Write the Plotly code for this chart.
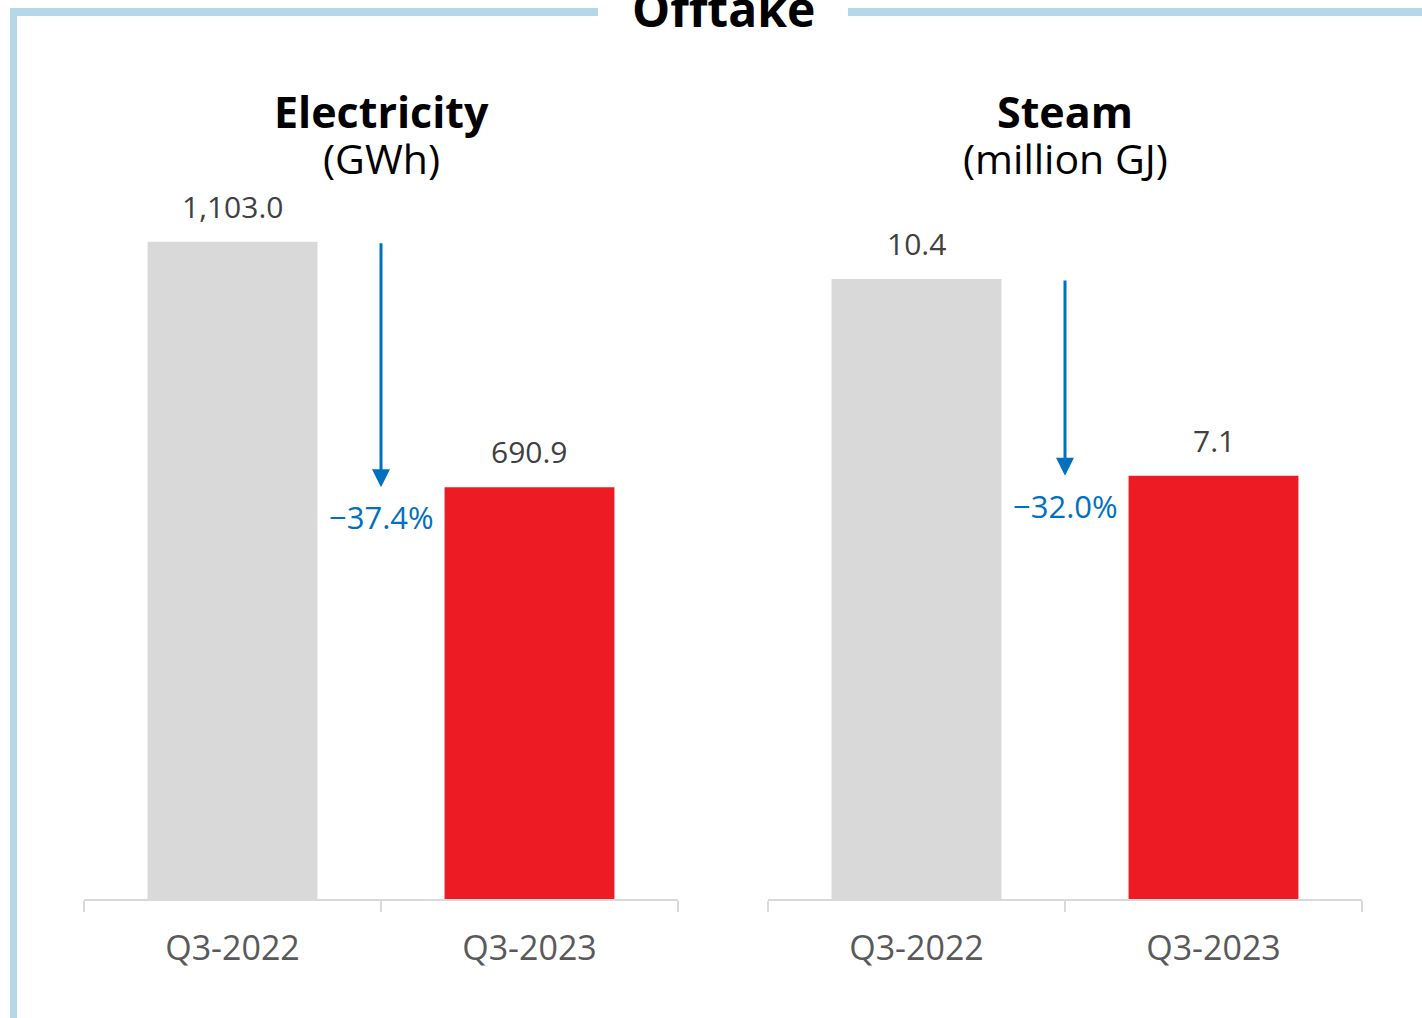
import plotly.graph_objects as go

W, H = 1422, 1018

# --- data ---
categories = ["Q3-2022", "Q3-2023"]
electricity_gwh = [1103.0, 690.9]
steam_million_gj = [10.4, 7.1]
change_pct = [-37.4, -32.0]
panel_titles = ["Electricity", "Steam"]
panel_units = ["(GWh)", "(million GJ)"]

BORDER = "#b4d8e7"
GREY_BAR = "#d9d9d9"
RED_BAR = "#ed1c24"
BLUE = "#0070c0"
FONT = "Open Sans, Lato, sans-serif"


def px(x):
    # screen pixel -> paper x
    return x / W


def py(y):
    # screen pixel -> paper y
    return 1 - y / H


fig = go.Figure()

# panel placement in screen pixels and y headroom factor
panels = [
    dict(vals=electricity_gwh, x0=84, x1=678, top=1.368),
    dict(vals=steam_million_gj, x0=768, x1=1362, top=1.45),
]

for i, p in enumerate(panels):
    n = "" if i == 0 else str(i + 1)
    xa, ya = "x" + n, "y" + n
    vals = p["vals"]

    fig.add_trace(go.Bar(
        x=categories, y=vals, xaxis=xa, yaxis=ya,
        marker=dict(color=[GREY_BAR, RED_BAR], line=dict(width=0)),
        hoverinfo="skip", showlegend=False))

    fig.layout["xaxis" + n] = dict(
        domain=[px(p["x0"]), px(p["x1"])], anchor=ya, type="category",
        range=[-0.5, 1.5], showline=True, linecolor="#d9d9d9", linewidth=2,
        ticks="outside", tickson="boundaries", ticklen=11, tickwidth=2,
        tickcolor="#d9d9d9", showgrid=False, zeroline=False,
        tickfont=dict(family=FONT, size=34, color="#595959"),
        ticklabelstandoff=18)
    fig.layout["yaxis" + n] = dict(
        domain=[py(899), 1], anchor=xa, range=[0, vals[0] * p["top"]],
        visible=False)

    # value labels
    for c, v in zip(categories, vals):
        fig.add_annotation(x=c, y=v, xref=xa, yref=ya, text=f"{v:,.1f}",
                           showarrow=False, yanchor="bottom", yshift=13,
                           font=dict(family=FONT, size=30, color="#404040"))

    # change arrow between the two bars
    fig.add_annotation(x=0.5, y=vals[1], xref=xa, yref=ya,
                       ax=0.5, ay=vals[0], axref=xa, ayref=ya,
                       text="", showarrow=True, arrowhead=2, arrowsize=1.2,
                       arrowwidth=3, arrowcolor=BLUE, standoff=0)
    fig.add_annotation(x=0.5, y=vals[1], xref=xa, yref=ya,
                       text=f"{change_pct[i]:.1f}%".replace("-", "\u2212"),
                       showarrow=False, yanchor="middle", yshift=-30,
                       font=dict(family=FONT, size=31, color=BLUE))

    # panel titles
    cx = px((p["x0"] + p["x1"]) / 2)
    fig.add_annotation(x=cx, y=py(112), xref="paper", yref="paper",
                       text=f"<b>{panel_titles[i]}</b>", showarrow=False,
                       xanchor="center", yanchor="middle",
                       font=dict(family=FONT, size=43, color="#000000"))
    fig.add_annotation(x=cx, y=py(158), xref="paper", yref="paper",
                       text=panel_units[i], showarrow=False,
                       xanchor="center", yanchor="middle",
                       font=dict(family=FONT, size=41, color="#000000"))

# --- frame with a gap for the title ---
fig.add_shape(type="line", xref="paper", yref="paper",
              x0=px(13.5), x1=px(13.5), y0=py(8), y1=0,
              line=dict(color=BORDER, width=7))
fig.add_shape(type="line", xref="paper", yref="paper",
              x0=px(10), x1=px(598), y0=py(12), y1=py(12),
              line=dict(color=BORDER, width=8))
fig.add_shape(type="line", xref="paper", yref="paper",
              x0=px(848), x1=1, y0=py(12), y1=py(12),
              line=dict(color=BORDER, width=8))
fig.add_annotation(x=px(723), y=py(8), xref="paper", yref="paper",
                   text="<b>Offtake</b>", showarrow=False,
                   xanchor="center", yanchor="middle",
                   font=dict(family=FONT, size=48, color="#000000"))

fig.update_layout(
    width=W, height=H, margin=dict(l=0, r=0, t=0, b=0),
    paper_bgcolor="white", plot_bgcolor="white",
    bargap=0.428, showlegend=False,
)

# drop the default page margin so the figure sits flush with the window
fig.write_html("out.html", config={"displayModeBar": False},
               post_script="document.body.style.margin = '0';")
